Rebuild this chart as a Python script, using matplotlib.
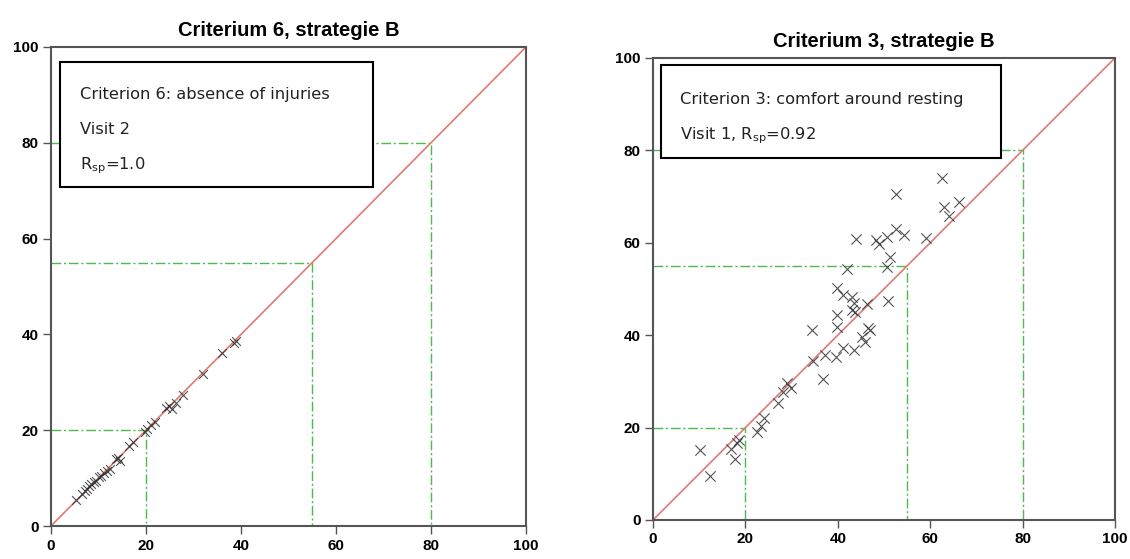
import numpy as np
import matplotlib.pyplot as plt
from matplotlib.patches import Rectangle

# criterion 6 (visit 2): scores from the two assessments
crit6_x = [5.3, 6.6, 7.1, 7.6, 8.1, 8.5, 9.0, 9.5, 10.1, 10.6, 11.2, 11.8, 12.4,
           13.6, 14.2, 14.6, 16.4, 17.3, 19.7, 20.3, 21.1, 22.0, 24.2, 24.8,
           25.4, 26.3, 27.8, 32.0, 36.0, 38.5, 39.0]
crit6_y = [5.5, 6.7, 7.4, 7.8, 8.3, 8.7, 9.2, 9.4, 10.2, 10.5, 11.0, 11.5, 12.0,
           13.9, 14.1, 13.6, 16.6, 17.6, 19.6, 20.2, 21.0, 21.8, 24.6, 25.0,
           24.5, 25.7, 27.4, 31.8, 36.2, 38.2, 38.6]

# criterion 3 (visit 1)
crit3_x = [10.2, 12.3, 16.8, 17.7, 18.2, 18.7, 22.6, 23.4, 24.0, 27.1, 28.1,
           29.1, 29.8, 34.7, 36.7, 37.2, 39.6, 34.5, 39.8, 39.8, 39.9, 41.1,
           41.2, 43.0, 43.5, 43.0, 43.7, 43.6, 46.3, 45.2, 45.9, 46.6, 47.0,
           50.9, 41.9, 50.7, 51.4, 43.9, 48.3, 48.9, 50.7, 52.6, 54.3, 52.6,
           59.1, 62.5, 63.0, 64.1, 66.2]
crit3_y = [15.2, 9.5, 15.3, 13.3, 16.7, 17.3, 19.0, 20.3, 22.0, 25.4, 27.8,
           29.6, 28.6, 34.5, 30.5, 35.7, 35.3, 41.1, 44.4, 41.8, 50.3, 48.7,
           37.3, 48.3, 46.9, 45.5, 45.1, 36.8, 46.8, 39.7, 38.6, 41.5, 41.1,
           47.5, 54.3, 54.7, 56.9, 60.8, 60.6, 59.7, 61.3, 62.9, 61.7, 70.5,
           61.0, 74.0, 67.8, 65.8, 68.8]

cutoffs = [20, 55, 80]
ticks = [0, 20, 40, 60, 80, 100]

fig = plt.figure(figsize=(11.3, 5.59), dpi=100)
ax1 = fig.add_axes([0.0451, 0.0590, 0.4204, 0.857])
ax2 = fig.add_axes([0.5779, 0.0698, 0.4088, 0.8265])


def draw_panel(ax, x, y, title, lines, box, msize):
    for c in cutoffs:
        ax.plot([0, c, c], [c, c, 0], color="#4cbb4c", lw=1.0,
                ls=(0, (7, 2, 1.5, 2)), zorder=1)
    ax.plot([0, 100], [0, 100], color="#e07a72", lw=1.2, zorder=2)
    ax.scatter(x, y, marker="x", s=msize, color="#333333", linewidths=0.8,
               alpha=0.85, zorder=3)
    ax.set_xlim(0, 100)
    ax.set_ylim(0, 100)
    ax.set_xticks(ticks)
    ax.set_yticks(ticks)
    for sp in ax.spines.values():
        sp.set_color("#555555")
        sp.set_linewidth(1.5)
    ax.tick_params(length=6, width=1.0, color="#555555", pad=3)
    for lab in ax.get_xticklabels() + ax.get_yticklabels():
        lab.set_fontfamily("Liberation Sans")
        lab.set_fontweight("bold")
        lab.set_fontsize(11)
    ax.set_title(title, fontfamily="Liberation Sans", fontweight="bold",
                 fontsize=14.5, pad=8)
    x0, y0, x1, y1 = box
    ax.add_patch(Rectangle((x0, y0), x1 - x0, y1 - y0, transform=ax.transAxes,
                           facecolor="white", edgecolor="black", lw=1.5,
                           zorder=5, clip_on=False))
    for ty, txt in lines:
        ax.text(x0 + 0.042, ty, txt, transform=ax.transAxes, fontsize=11.7,
                color="#222222", va="center", ha="left", zorder=6)


draw_panel(ax1, crit6_x, crit6_y, "Criterium 6, strategie B",
           [(0.900, "Criterion 6: absence of injuries"),
            (0.827, "Visit 2"),
            (0.752, r"R$_{\mathregular{sp}}$=1.0")],
           (0.019, 0.708, 0.678, 0.969), 40)

draw_panel(ax2, crit3_x, crit3_y, "Criterium 3, strategie B",
           [(0.910, "Criterion 3: comfort around resting"),
            (0.831, r"Visit 1, R$_{\mathregular{sp}}$=0.92")],
           (0.017, 0.784, 0.753, 0.985), 55)

fig.savefig("out.png", dpi=100)
